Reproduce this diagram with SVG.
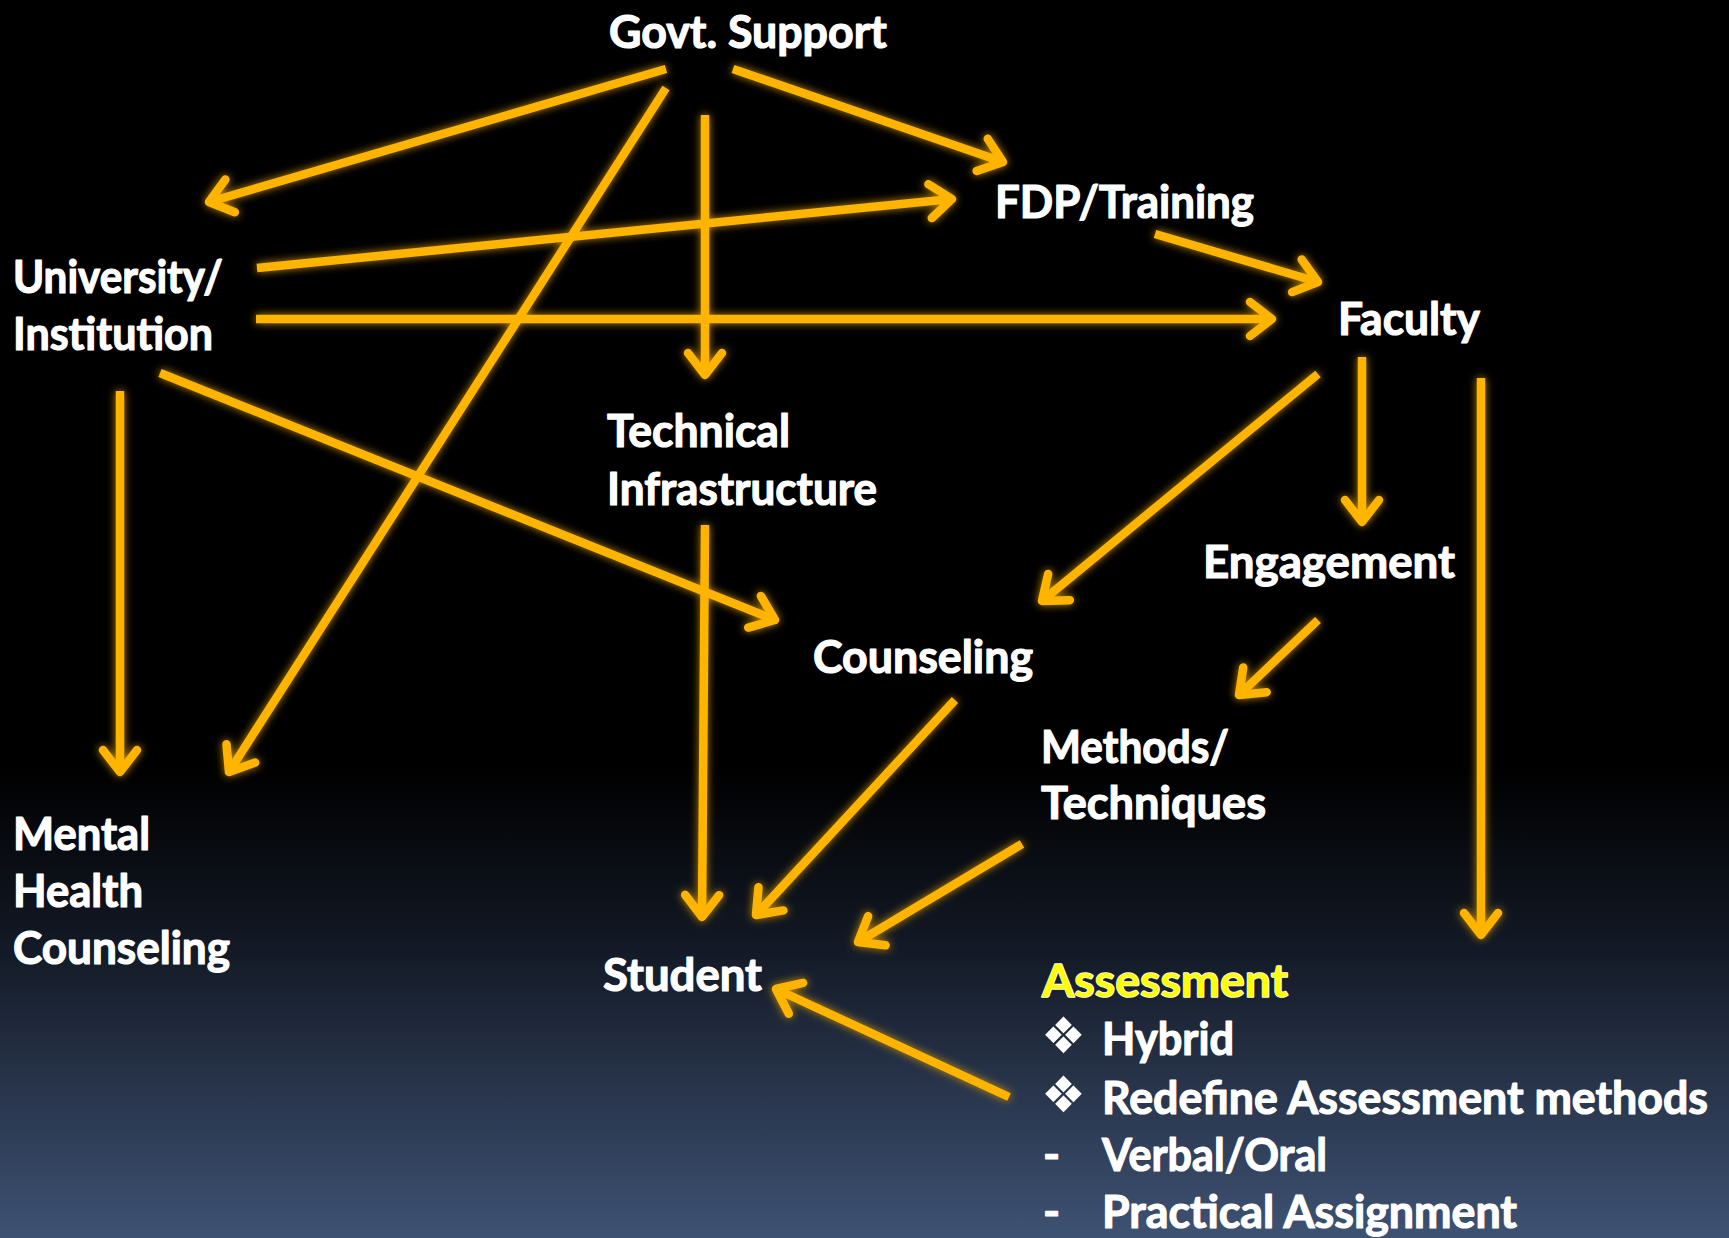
<svg xmlns="http://www.w3.org/2000/svg" width="1729" height="1238" viewBox="0 0 1729 1238">
<defs>
<linearGradient id="bg" x1="0" y1="0" x2="0" y2="1">
<stop offset="0" stop-color="#000000"/>
<stop offset="0.62" stop-color="#000000"/>
<stop offset="0.76" stop-color="#121824"/>
<stop offset="1" stop-color="#3e5273"/>
</linearGradient>
<filter id="glow" x="-10%" y="-10%" width="120%" height="120%">
<feGaussianBlur in="SourceAlpha" stdDeviation="4" result="b"/>
<feFlood flood-color="#e0a000" flood-opacity="0.85"/>
<feComposite in2="b" operator="in" result="g"/>
<feMerge><feMergeNode in="g"/><feMergeNode in="SourceGraphic"/></feMerge>
</filter>
<marker id="ah" markerUnits="userSpaceOnUse" viewBox="-30 -25 40 50" refX="0" refY="0" markerWidth="40" markerHeight="50" orient="auto" overflow="visible">
<path d="M-22,-17 L0,0 L-22,17" fill="none" stroke="#ffb400" stroke-width="8.5" stroke-linecap="round" stroke-linejoin="round"/>
</marker>
<style>
.c line{stroke:#ffb400;stroke-width:8.5;fill:none;marker-end:url(#ah)}
text{font-family:Lato,"Open Sans","Liberation Sans",sans-serif;font-weight:bold;font-size:46px;fill:#ffffff;stroke:#ffffff;stroke-width:1.2;stroke-linejoin:round}
.dia{font-family:"DejaVu Sans",sans-serif;font-size:50px;font-weight:normal;stroke:none}
.asm{fill:#ffff00;stroke:#ffffff;stroke-width:1.6;paint-order:stroke}
</style>
</defs>
<rect x="0" y="0" width="1729" height="1238" fill="url(#bg)"/>
<g id="connectors" class="c" filter="url(#glow)">
<line x1="666" y1="69" x2="209" y2="202"/>
<line x1="666" y1="88" x2="229" y2="772"/>
<line x1="705" y1="115" x2="705" y2="375"/>
<line x1="733" y1="69" x2="1003" y2="162"/>
<line x1="257" y1="268" x2="952" y2="199"/>
<line x1="256" y1="319" x2="1272" y2="319"/>
<line x1="1155" y1="234" x2="1318" y2="282"/>
<line x1="120" y1="391" x2="120" y2="772"/>
<line x1="160" y1="373" x2="775" y2="620"/>
<line x1="705" y1="525" x2="702" y2="917"/>
<line x1="1318" y1="374" x2="1042" y2="601"/>
<line x1="1362" y1="357" x2="1362" y2="522"/>
<line x1="1481" y1="378" x2="1481" y2="935"/>
<line x1="1318" y1="620" x2="1239" y2="695"/>
<line x1="955" y1="700" x2="756" y2="915"/>
<line x1="1022" y1="844" x2="858" y2="942"/>
<line x1="1009" y1="1097" x2="776" y2="989"/>
</g>
<g id="govt"><text x="609" y="48" textLength="278" lengthAdjust="spacingAndGlyphs">Govt. Support</text></g>
<g id="university"><text x="13" y="293" textLength="210" lengthAdjust="spacingAndGlyphs">University/</text><text x="13" y="350" textLength="200" lengthAdjust="spacingAndGlyphs">Institution</text></g>
<g id="fdp"><text x="995" y="218" textLength="259" lengthAdjust="spacingAndGlyphs">FDP/Training</text></g>
<g id="faculty"><text x="1338" y="335" textLength="142" lengthAdjust="spacingAndGlyphs">Faculty</text></g>
<g id="technical"><text x="607" y="447" textLength="183" lengthAdjust="spacingAndGlyphs">Technical</text><text x="607" y="505" textLength="270" lengthAdjust="spacingAndGlyphs">Infrastructure</text></g>
<g id="engagement"><text x="1203" y="578" textLength="252" lengthAdjust="spacingAndGlyphs">Engagement</text></g>
<g id="counseling"><text x="813" y="673" textLength="220" lengthAdjust="spacingAndGlyphs">Counseling</text></g>
<g id="methods"><text x="1041" y="763" textLength="188" lengthAdjust="spacingAndGlyphs">Methods/</text><text x="1041" y="819" textLength="225" lengthAdjust="spacingAndGlyphs">Techniques</text></g>
<g id="mental"><text x="13" y="850" textLength="137" lengthAdjust="spacingAndGlyphs">Mental</text><text x="13" y="907" textLength="130" lengthAdjust="spacingAndGlyphs">Health</text><text x="13" y="964" textLength="217" lengthAdjust="spacingAndGlyphs">Counseling</text></g>
<g id="student"><text x="603" y="991" textLength="159" lengthAdjust="spacingAndGlyphs">Student</text></g>
<g id="assessment">
<text class="asm" x="1042" y="997" textLength="246" lengthAdjust="spacingAndGlyphs">Assessment</text>
<text class="dia" x="1041" y="1053">❖</text>
<text x="1102" y="1055" textLength="132" lengthAdjust="spacingAndGlyphs">Hybrid</text>
<text class="dia" x="1041" y="1112">❖</text>
<text x="1102" y="1114" textLength="606" lengthAdjust="spacingAndGlyphs">Redefine Assessment methods</text>
<text x="1043" y="1171">-</text>
<text x="1102" y="1171" textLength="225" lengthAdjust="spacingAndGlyphs">Verbal/Oral</text>
<text x="1043" y="1228">-</text>
<text x="1102" y="1228" textLength="415" lengthAdjust="spacingAndGlyphs">Practical Assignment</text>
</g>
</svg>
